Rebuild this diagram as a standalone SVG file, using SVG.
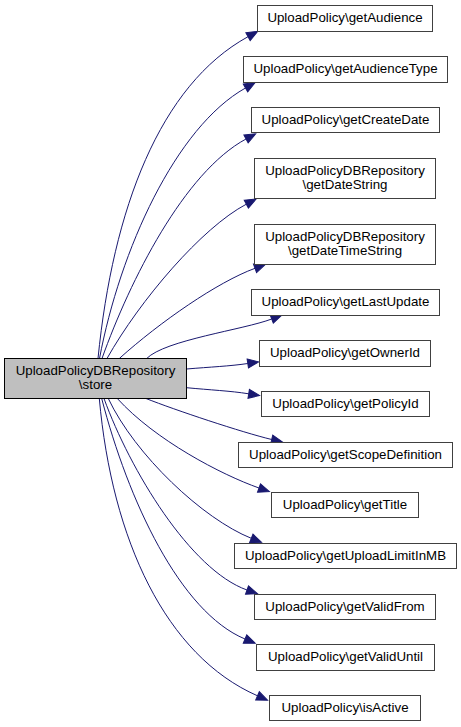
<svg xmlns="http://www.w3.org/2000/svg" width="461" height="727" viewBox="0 0 461 727">
<style>
.n rect{fill:#ffffff;stroke:#404040;stroke-width:1}
.root rect{fill:#bfbfbf;stroke:#000000}
text{font-family:"Liberation Sans",Arial,Helvetica,sans-serif;font-size:13.3px;fill:#000000;text-anchor:middle}
.e path{fill:none;stroke:#191970;stroke-width:1;marker-end:url(#ah)}
</style>
<defs>
<marker id="ah" markerUnits="userSpaceOnUse" markerWidth="12" markerHeight="10" refX="0" refY="4.5" orient="auto" overflow="visible">
<path d="M0,0 L11,4.5 L0,9 Z" fill="#191970" stroke="#191970" stroke-width="1"/>
</marker>
</defs>
<rect width="461" height="727" fill="#ffffff"/>
<g id="edges" class="e">
<path d="M98,358.5 C113,208.5 160,85 248,36.7"/>
<path d="M99.5,358.5 C120,250 175.7,127.2 245.5,88"/>
<path d="M102,358.5 C130,280 184.4,172.2 246,139"/>
<path d="M107,358.5 C140,300 202,227.5 246.3,204.2"/>
<path d="M119.3,358.5 C160,322 217.4,282.1 255,268.3"/>
<path d="M146.7,358.5 C165,340 243.7,329.7 271.7,319"/>
<path d="M186.5,369 C210,367 230,366.2 247.8,363.5"/>
<path d="M186.5,387.7 C210,390 230,390.8 248.7,393.8"/>
<path d="M146,398.5 C175,410 242.5,432.5 271.7,439.5"/>
<path d="M117.3,398.5 C155,440 221.3,474.7 259,488"/>
<path d="M108.3,398.5 C135,455 203,519 251.3,538.3"/>
<path d="M104,398.5 C130,470 190.4,570 247,590"/>
<path d="M101.7,398.5 C128,500 180,612 245,639"/>
<path d="M99.3,398.5 C112,540 165.9,655.7 257.5,695.8"/>
</g>
<g id="store" class="n root"><rect x="4.5" y="358.5" width="182" height="40"/><text x="95.5" y="375">UploadPolicyDBRepository</text><text x="95.5" y="388.5">\store</text></g>
<g id="getAudience" class="n"><rect x="257.5" y="5.5" width="175" height="26"/><text x="345" y="22">UploadPolicy\getAudience</text></g>
<g id="getAudienceType" class="n"><rect x="243.5" y="56.5" width="204" height="26"/><text x="345.5" y="73">UploadPolicy\getAudienceType</text></g>
<g id="getCreateDate" class="n"><rect x="251.5" y="107.5" width="188" height="25"/><text x="345.5" y="124">UploadPolicy\getCreateDate</text></g>
<g id="getDateString" class="n"><rect x="254.5" y="158.5" width="181" height="40"/><text x="345" y="175">UploadPolicyDBRepository</text><text x="345" y="188.5">\getDateString</text></g>
<g id="getDateTimeString" class="n"><rect x="254.5" y="224.5" width="181" height="40"/><text x="345" y="241">UploadPolicyDBRepository</text><text x="345" y="254.5">\getDateTimeString</text></g>
<g id="getLastUpdate" class="n"><rect x="251.5" y="289.5" width="188" height="26"/><text x="345.5" y="306">UploadPolicy\getLastUpdate</text></g>
<g id="getOwnerId" class="n"><rect x="259.5" y="340.5" width="171" height="26"/><text x="345" y="357">UploadPolicy\getOwnerId</text></g>
<g id="getPolicyId" class="n"><rect x="261.5" y="391.5" width="168" height="25"/><text x="345.5" y="408">UploadPolicy\getPolicyId</text></g>
<g id="getScopeDefinition" class="n"><rect x="238.5" y="442.5" width="214" height="25"/><text x="345.5" y="459">UploadPolicy\getScopeDefinition</text></g>
<g id="getTitle" class="n"><rect x="271.5" y="492.5" width="147" height="25"/><text x="345" y="509">UploadPolicy\getTitle</text></g>
<g id="getUploadLimitInMB" class="n"><rect x="234.5" y="543.5" width="222" height="25"/><text x="345.5" y="560">UploadPolicy\getUploadLimitInMB</text></g>
<g id="getValidFrom" class="n"><rect x="254.5" y="594.5" width="181" height="25"/><text x="345" y="611">UploadPolicy\getValidFrom</text></g>
<g id="getValidUntil" class="n"><rect x="256.5" y="644.5" width="178" height="26"/><text x="345.5" y="661">UploadPolicy\getValidUntil</text></g>
<g id="isActive" class="n"><rect x="269.5" y="695.5" width="151" height="25"/><text x="345" y="712">UploadPolicy\isActive</text></g>
</svg>
